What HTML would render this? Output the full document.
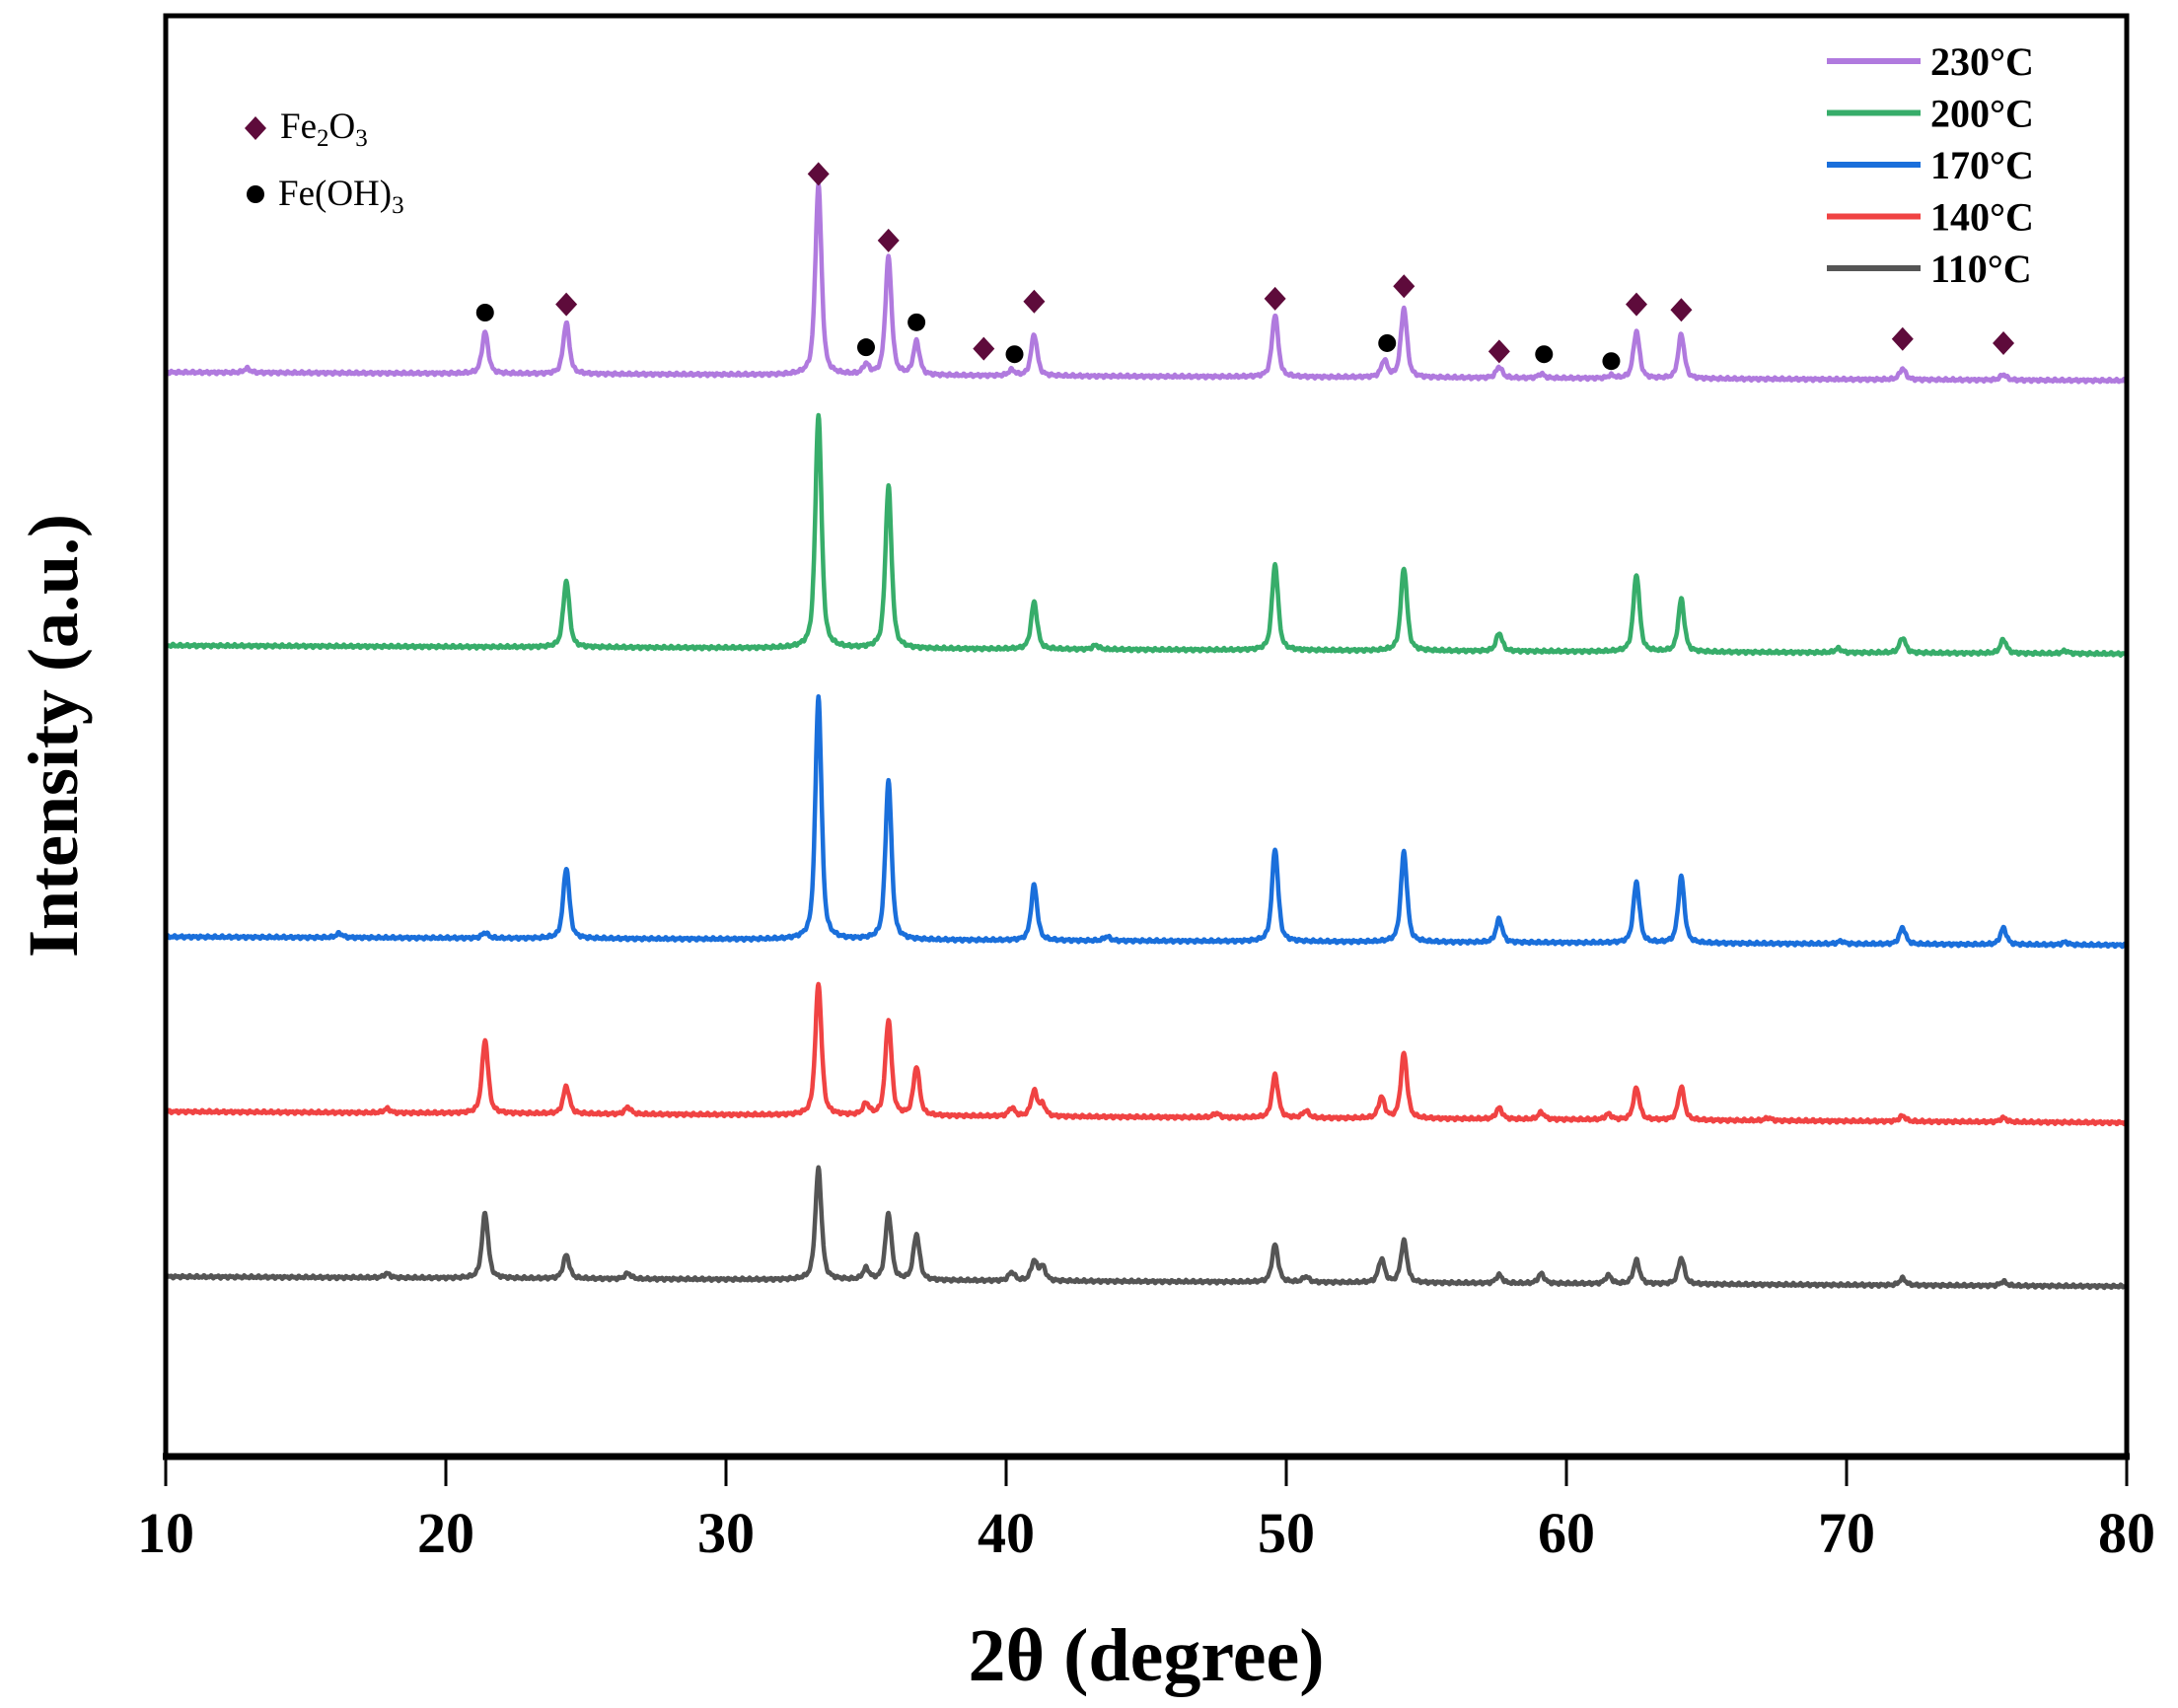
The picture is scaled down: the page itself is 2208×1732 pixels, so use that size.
<!DOCTYPE html>
<html><head><meta charset="utf-8">
<style>
html,body{margin:0;padding:0;background:#fff;}
svg{display:block;font-family:"Liberation Serif",serif;}
</style></head>
<body>
<svg id="chart" width="2208" height="1732" viewBox="0 0 2208 1732" xmlns="http://www.w3.org/2000/svg">
  <g id="series"></g>
  <g id="markers"></g>
  <rect x="168" y="16" width="1988" height="1460" fill="none" stroke="#000" stroke-width="5"/>
  <line x1="165" y1="1477" x2="2159" y2="1477" stroke="#000" stroke-width="7"/>
  <g id="xticks"></g>
  <text x="1162" y="1704" text-anchor="middle" font-size="76" font-weight="bold">2θ (degree)</text>
  <text transform="translate(78,746) rotate(-90)" text-anchor="middle" font-size="72" font-weight="bold">Intensity (a.u.)</text>
  <g>
    <path d="M259,118 L270,130 L259,142 L248,130 Z" fill="#5e0b3b"/>
    <text x="284" y="140" font-size="37">Fe<tspan font-size="25" dy="8">2</tspan><tspan dy="-8">O</tspan><tspan font-size="25" dy="8">3</tspan></text>
    <circle cx="259" cy="197" r="9" fill="#000"/>
    <text x="282" y="208" font-size="37">Fe(OH)<tspan font-size="25" dy="8">3</tspan></text>
  </g>
  <g id="legend"></g>
</svg>
<script>
const seriesNames = ["230°C","200°C","170°C","140°C","110°C"];
const seriesColors = ["#b07ade","#37ad6a","#1a6fdb","#f04343","#555555"];
// baseline offsets (a.u.) at 2θ=10 and 2θ=80
const baseStart = [781, 584, 374, 248, 129];
const baseEnd   = [775, 578, 368, 240, 122];
// peak positions per series and heights (a.u.)
const pos230 = [21.4,24.3,33.3,35.0,35.8,36.8,40.2,41.0,49.6,53.5,54.2,57.6,59.1,61.6,62.5,64.1,72.0,75.6,12.9];
const hgt230 = [30,37,137,7,85,24,4,30,45,12,50,8,3,2,34,32,8,4,3];
const pos200 = [24.3,33.3,35.8,41.0,49.6,54.2,57.6,62.5,64.1,69.7,72.0,75.6,77.8,43.2];
const hgt200 = [48,169,117,34,62,60,13,56,38,3,11,10,2,3];
const pos170 = [21.4,24.3,33.3,35.8,41.0,43.6,49.6,54.2,57.6,62.5,64.1,69.8,72.0,75.6,77.8,16.2];
const hgt170 = [4,51,175,115,40,3,67,65,17,44,48,2,12,12,2,3];
const pos140 = [17.9,21.4,24.3,26.5,33.3,35.0,35.8,36.8,40.2,41.0,41.3,47.5,49.6,50.7,53.4,54.2,57.6,59.1,61.5,62.5,64.1,67.2,72.0,75.6];
const hgt140 = [3,53,20,5,95,8,69,35,6,18,8,3,31,5,15,47,8,5,4,23,24,2,4,3];
const pos110 = [17.9,21.4,24.3,26.5,33.3,35.0,35.8,36.8,40.2,41.0,41.3,49.6,50.7,53.4,54.2,57.6,59.1,61.5,62.5,64.1,72.0,75.6];
const hgt110 = [3,47,17,4,80,8,48,33,6,14,10,27,4,17,30,6,7,6,17,19,5,3];
const peakPos = [pos230,pos200,pos170,pos140,pos110];
const peakHgt = [hgt230,hgt200,hgt170,hgt140,hgt110];
// phase markers: 2θ and intensity level (a.u.)
const fe2o3X = [24.3,33.3,35.8,39.2,41.0,49.6,54.2,57.6,62.5,64.1,72.0,75.6];
const fe2o3Y = [830,924,876,798,832,834,843,796,830,826,805,802];
const feoh3X = [21.4,35.0,36.8,40.3,53.6,59.2,61.6];
const feoh3Y = [824,799,817,794,802,794,789];
const xTicks = [10,20,30,40,50,60,70,80];

const L=168,R=2156,T=16,B=1476,YMAX=1038;
const sx = v => L + (v-10)/70*(R-L);
const sy = v => B - v/YMAX*(B-T);
const NS="http://www.w3.org/2000/svg";
function mk(tag, attrs){const e=document.createElementNS(NS,tag);for(const k in attrs)e.setAttribute(k,attrs[k]);return e;}

const sg=document.getElementById('series');
for(let s=0;s<seriesNames.length;s++){
  let d="";
  for(let x=10;x<=80.0001;x+=0.02){
    let v = baseStart[s] + (baseEnd[s]-baseStart[s])*(x-10)/70;
    // small deterministic texture to mimic measurement noise
    v += 1.2*Math.sin(x*37.1+s)*Math.sin(x*11.3+2*s);
    const P=peakPos[s],H=peakHgt[s];
    for(let i=0;i<P.length;i++){
      const w=0.13, dx=(x-P[i])/w;
      v += H[i]*(0.6/(1+dx*dx) + 0.4*Math.exp(-0.693*dx*dx));
    }
    d += (d?"L":"M")+sx(x).toFixed(1)+","+sy(v).toFixed(1);
  }
  const p=mk('path',{d:d,fill:'none',stroke:seriesColors[s],'stroke-width':4.5,'stroke-linejoin':'round'});
  
  
  sg.appendChild(p);
}
const mg=document.getElementById('markers');
for(let i=0;i<fe2o3X.length;i++){
  const cx=sx(fe2o3X[i]),cy=sy(fe2o3Y[i]);
  const p=mk('path',{d:`M${cx},${cy-12} L${cx+11},${cy} L${cx},${cy+12} L${cx-11},${cy} Z`,fill:'#5e0b3b'});
  
  
  mg.appendChild(p);
}
for(let i=0;i<feoh3X.length;i++){
  const c=mk('circle',{cx:sx(feoh3X[i]),cy:sy(feoh3Y[i]),r:9,fill:'#000'});
  
  
  mg.appendChild(c);
}
const tg=document.getElementById('xticks');
for(const t of xTicks){
  const l=mk('line',{x1:sx(t),y1:1478,x2:sx(t),y2:1507,stroke:'#000','stroke-width':3});
  
  
  tg.appendChild(l);
  const tx=mk('text',{x:sx(t),y:1574,'text-anchor':'middle','font-size':58,'font-weight':'bold'});
  tx.textContent=t;
  
  
  tg.appendChild(tx);
}
const lg=document.getElementById('legend');
for(let s=0;s<seriesNames.length;s++){
  const y=62+s*52.5;
  const l=mk('line',{x1:1852,y1:y,x2:1947,y2:y,stroke:seriesColors[s],'stroke-width':6});
  
  
  lg.appendChild(l);
  const tx=mk('text',{x:1957,y:y+14,'font-size':40,'font-weight':'bold'});
  tx.textContent=seriesNames[s];
  
  
  lg.appendChild(tx);
}
</script>
</body></html>
